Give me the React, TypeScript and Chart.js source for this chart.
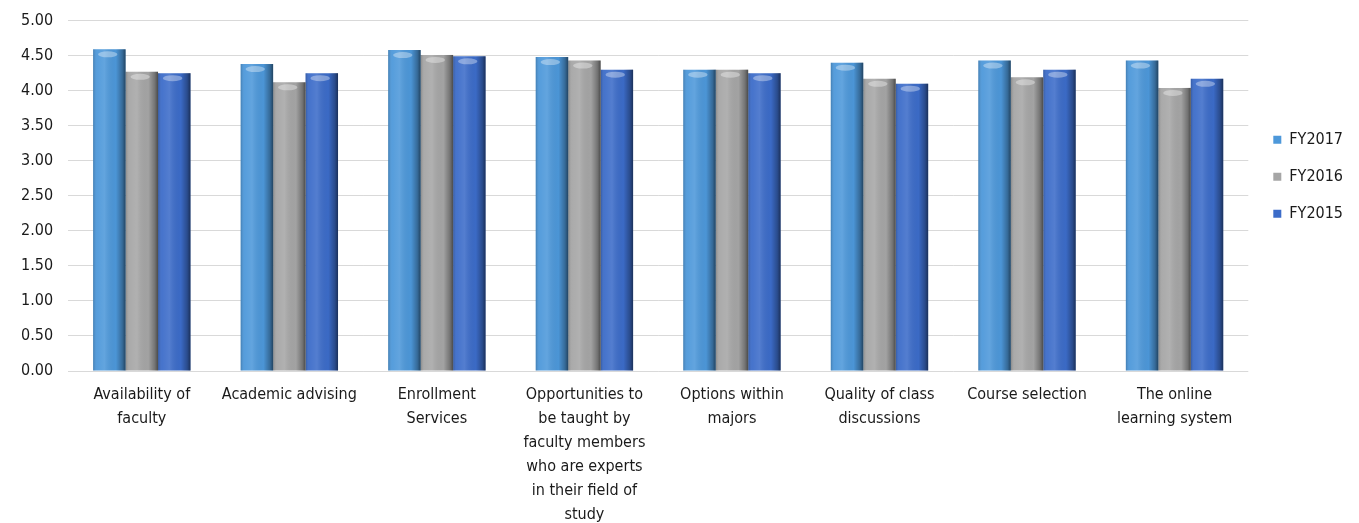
import React, { useEffect, useRef } from "react";
import { Chart, registerables } from "chart.js";

Chart.register(...registerables);

const categories: (string | string[])[] = [
  ["Availability of", "faculty"],
  "Academic advising",
  ["Enrollment", "Services"],
  ["Opportunities to", "be taught by", "faculty members", "who are experts", "in their field of", "study"],
  ["Options within", "majors"],
  ["Quality of class", "discussions"],
  "Course selection",
  ["The online", "learning system"],
];

const fy2017 = [4.59, 4.38, 4.58, 4.48, 4.30, 4.40, 4.43, 4.43];
const fy2016 = [4.27, 4.12, 4.51, 4.43, 4.30, 4.17, 4.19, 4.04];
const fy2015 = [4.25, 4.25, 4.49, 4.30, 4.25, 4.10, 4.30, 4.17];

const yTicks = [0, 0.5, 1, 1.5, 2, 2.5, 3, 3.5, 4, 4.5, 5];

const FONT = "'Liberation Sans Narrow', 'DejaVu Sans Condensed', Lato, sans-serif";

const shadePlugin = {
  id: "shade",
  afterLayout(chart: any) {
    const lg = chart.legend;
    if (lg) {
      lg.left += 4;
      lg.right += 4;
    }
  },
  afterDatasetsDraw(chart: any) {
    const ctx = chart.ctx;
    chart.data.datasets.forEach((_: any, di: number) => {
      const meta = chart.getDatasetMeta(di);
      if (meta.hidden) return;
      meta.data.forEach((bar: any) => {
        const { x, y, base, width } = bar.getProps(["x", "y", "base", "width"], true);
        const left = x - width / 2;
        const g = ctx.createLinearGradient(left, 0, left + width, 0);
        g.addColorStop(0, "rgba(0,0,0,0.18)");
        g.addColorStop(0.12, "rgba(255,255,255,0.05)");
        g.addColorStop(0.35, "rgba(255,255,255,0.12)");
        g.addColorStop(0.7, "rgba(0,0,0,0.02)");
        g.addColorStop(0.9, "rgba(0,0,0,0.3)");
        g.addColorStop(1, "rgba(0,0,0,0.55)");
        ctx.save();
        ctx.fillStyle = g;
        ctx.fillRect(left, y, width, base - y);
        ctx.beginPath();
        ctx.ellipse(x - width * 0.05, y + 5, width * 0.3, 3, 0, 0, Math.PI * 2);
        ctx.fillStyle = "rgba(255,255,255,0.35)";
        ctx.fill();
        ctx.restore();
      });
    });
  },
};

export default function App() {
  const ref = useRef<HTMLCanvasElement | null>(null);
  useEffect(() => {
    if (!ref.current) return;
    const chart = new Chart(ref.current, {
      type: "bar",
      data: {
        labels: categories,
        datasets: [
          { label: "FY2017", data: fy2017, backgroundColor: "#4d98da", borderWidth: 0 },
          { label: "FY2016", data: fy2016, backgroundColor: "#a6a6a6", borderWidth: 0 },
          { label: "FY2015", data: fy2015, backgroundColor: "#3c6cc9", borderWidth: 0 },
        ],
      },
      options: {
        animation: false,
        responsive: true,
        maintainAspectRatio: false,
        layout: { padding: { top: 3, left: 6, right: 10, bottom: -16 } },
        datasets: { bar: { barPercentage: 1.0, categoryPercentage: 0.66 } },
        scales: {
          x: {
            grid: { display: false, drawTicks: false },
            border: { display: false },
            ticks: {
              autoSkip: false,
              maxRotation: 0,
              minRotation: 0,
              color: "#1a1a1a",
              padding: 12,
              font: { family: FONT, size: 16, lineHeight: 1.5 },
            },
          },
          y: {
            min: 0,
            max: 5,
            afterBuildTicks: (axis: any) => {
              axis.ticks = yTicks.map((v) => ({ value: v }));
            },
            grid: { color: "#d9d9d9", drawTicks: false, lineWidth: 1 },
            border: { display: false },
            ticks: {
              color: "#1a1a1a",
              padding: 15,
              font: { family: FONT, size: 16, lineHeight: 0.7 },
              callback: (v: any) => Number(v).toFixed(2),
            },
          },
        },
        plugins: {
          legend: {
            position: "right",
            align: "start",
            title: { display: true, text: " ", padding: { top: 49, bottom: 42 }, font: { size: 14 } },
            labels: {
              boxWidth: 8,
              boxHeight: 8,
              padding: 21,
              color: "#1a1a1a",
              font: { family: FONT, size: 16 },
            },
          },
          tooltip: { enabled: false },
        },
      },
      plugins: [shadePlugin],
    });
    return () => chart.destroy();
  }, []);
  return (
    <div style={{ position: "absolute", left: 0, top: 0, width: 1359, height: 523 }}>
      <canvas ref={ref} />
    </div>
  );
}
